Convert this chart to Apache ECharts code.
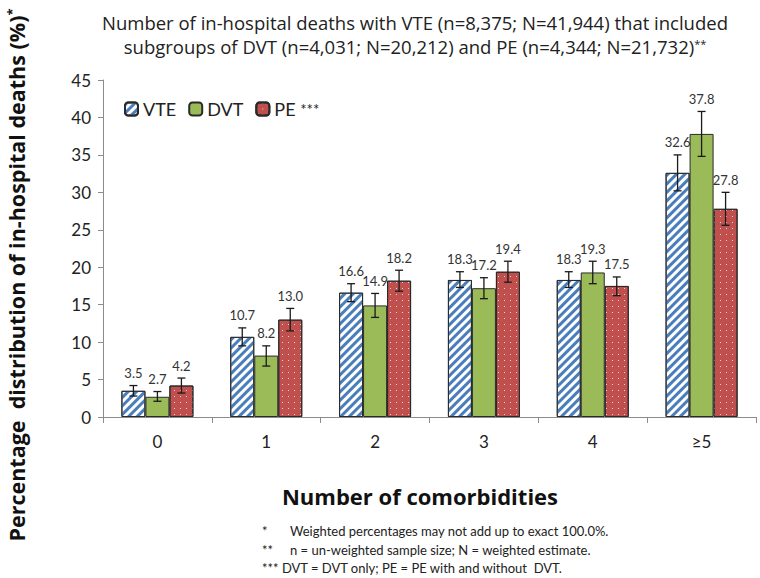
<!DOCTYPE html>
<html><head><meta charset="utf-8">
<script src="https://cdn.jsdelivr.net/npm/echarts@6/dist/echarts.min.js"></script>
<style>html,body{margin:0;padding:0;background:#fff}#c{width:760px;height:578px}</style>
</head><body><div id="c"></div>
<script>
const categories = ['0', '1', '2', '3', '4', '≥5'];
const vte = [3.5, 10.7, 16.6, 18.3, 18.3, 32.6];
const dvt = [2.7, 8.2, 14.9, 17.2, 19.3, 37.8];
const pe = [4.2, 13.0, 18.2, 19.4, 17.5, 27.8];
const vteLow = [2.8, 9.5, 15.4, 17.3, 17.3, 30.2];
const vteHigh = [4.2, 11.9, 17.8, 19.4, 19.4, 35.0];
const dvtLow = [2.1, 6.8, 13.3, 15.8, 17.8, 34.8];
const dvtHigh = [3.4, 9.5, 16.5, 18.6, 20.8, 40.8];
const peLow = [3.2, 11.5, 16.8, 18.0, 16.2, 25.6];
const peHigh = [5.2, 14.5, 19.6, 20.8, 18.7, 30.0];
const yMin = 0, yMax = 45, yStep = 5;

const FONT = 'Lato';
const FONT2 = 'Open Sans';
const BAR_W = 24;

function errData(vals, lo, hi) {
  return vals.map((v, i) => [i, v, lo[i], hi[i]]);
}
function errRender(offset) {
  return function (params, api) {
    const i = api.value(0), v = api.value(1), lo = api.value(2), hi = api.value(3);
    const pH = api.coord([i, hi]);
    const pL = api.coord([i, lo]);
    const cx = pH[0] + offset;
    const cap = 4;
    const st = { stroke: '#1a1a1a', lineWidth: 1.3 };
    return {
      type: 'group',
      children: [
        { type: 'line', shape: { x1: cx, y1: pH[1], x2: cx, y2: pL[1] }, style: st },
        { type: 'line', shape: { x1: cx - cap, y1: pH[1], x2: cx + cap, y2: pH[1] }, style: st },
        { type: 'line', shape: { x1: cx - cap, y1: pL[1], x2: cx + cap, y2: pL[1] }, style: st },
        { type: 'text', x: cx, y: pH[1] - 6, style: { text: v.toFixed(1), align: 'center', verticalAlign: 'bottom', fontSize: 13, fontFamily: FONT, fill: '#333' } }
      ]
    };
  };
}

const chart = echarts.init(document.getElementById('c'), null, { renderer: 'svg' });
chart.setOption({
  animation: false,
  backgroundColor: '#fff',
  grid: { left: 103, right: 4, top: 80, bottom: 161 },
  legend: {
    left: 119, top: 95, itemWidth: 13, itemHeight: 13, itemGap: 12,
    data: ['VTE', 'DVT', 'PE'],
    textStyle: { fontSize: 18, fontFamily: FONT, color: '#222', rich: { s: { fontSize: 15, fontFamily: FONT, color: '#222' } } },
    formatter: n => n === 'PE' ? 'PE {s|***}' : n
  },
  xAxis: {
    type: 'category', data: categories,
    axisLine: { lineStyle: { color: '#8c8c8c' } },
    axisTick: { show: true, length: 6, lineStyle: { color: '#8c8c8c' } },
    axisLabel: { fontSize: 17, fontFamily: FONT, color: '#222', margin: 16 }
  },
  yAxis: {
    type: 'value', min: yMin, max: yMax, interval: yStep,
    splitLine: { show: false },
    axisLine: { show: true, lineStyle: { color: '#8c8c8c' } },
    axisTick: { show: true, length: 5, lineStyle: { color: '#8c8c8c' } },
    axisLabel: { fontSize: 17, fontFamily: FONT, color: '#222', margin: 12 }
  },
  series: [
    { name: 'VTE', type: 'bar', data: vte, barWidth: BAR_W, barGap: '0%',
      itemStyle: { color: '#ffffff', borderColor: '#2a2a2a', borderWidth: 1,
        decal: { symbol: 'rect', symbolSize: 1, dashArrayX: [1, 0], dashArrayY: [2.2, 2.8], rotation: -Math.PI / 4, color: '#4a7ebb' } } },
    { name: 'DVT', type: 'bar', data: dvt, barWidth: BAR_W, barGap: '0%',
      itemStyle: { color: '#9bbb59', borderColor: '#2a2a2a', borderWidth: 1 } },
    { name: 'PE', type: 'bar', data: pe, barWidth: BAR_W, barGap: '0%',
      itemStyle: { color: '#c0504d', borderColor: '#2a2a2a', borderWidth: 1,
        decal: { symbol: 'rect', symbolSize: 1, dashArrayX: [1, 5], dashArrayY: [1, 5], color: 'rgba(255,255,255,0.75)' } } },
    { type: 'custom', renderItem: errRender(-BAR_W), data: errData(vte, vteLow, vteHigh), z: 10 },
    { type: 'custom', renderItem: errRender(0), data: errData(dvt, dvtLow, dvtHigh), z: 10 },
    { type: 'custom', renderItem: errRender(BAR_W), data: errData(pe, peLow, peHigh), z: 10 }
  ],
  graphic: [
    { type: 'text', x: 415, y: 10,
      style: { text: 'Number of in-hospital deaths with VTE (n=8,375; N=41,944) that included\nsubgroups of DVT (n=4,031; N=20,212) and PE (n=4,344; N=21,732){s|**}',
        align: 'center', fontSize: 18.5, lineHeight: 24, fontFamily: FONT2, fill: '#222',
        rich: { s: { fontSize: 11, fontFamily: FONT2, fill: '#222', padding: [0, 0, 6, 0] } } } },
    { type: 'text', x: 5, y: 275, rotation: Math.PI / 2,
      style: { text: 'Percentage  distribution of in-hospital deaths (%){s|*}', align: 'center', verticalAlign: 'top',
        fontSize: 21.5, fontWeight: 'bold', fontFamily: FONT2, fill: '#111',
        rich: { s: { fontSize: 13, fontWeight: 'bold', fontFamily: FONT2, fill: '#111', padding: [0, 0, 8, 0] } } } },
    { type: 'text', x: 420, y: 496,
      style: { text: 'Number of comorbidities', align: 'center', verticalAlign: 'middle', fontSize: 22, fontWeight: 'bold', fontFamily: FONT2, fill: '#111' } },
    { type: 'text', x: 262, y: 524, style: { text: '*', fontSize: 13, fontFamily: FONT, fill: '#222' } },
    { type: 'text', x: 290, y: 524, style: { text: 'Weighted percentages may not add up to exact 100.0%.', fontSize: 13, fontFamily: FONT, fill: '#222' } },
    { type: 'text', x: 262, y: 543, style: { text: '**', fontSize: 13, fontFamily: FONT, fill: '#222' } },
    { type: 'text', x: 290, y: 543, style: { text: 'n = un-weighted sample size; N = weighted estimate.', fontSize: 13, fontFamily: FONT, fill: '#222' } },
    { type: 'text', x: 262, y: 561, style: { text: '*** DVT = DVT only; PE = PE with and without  DVT.', fontSize: 13, fontFamily: FONT, fill: '#222' } }
  ]
});
</script>
</body></html>
